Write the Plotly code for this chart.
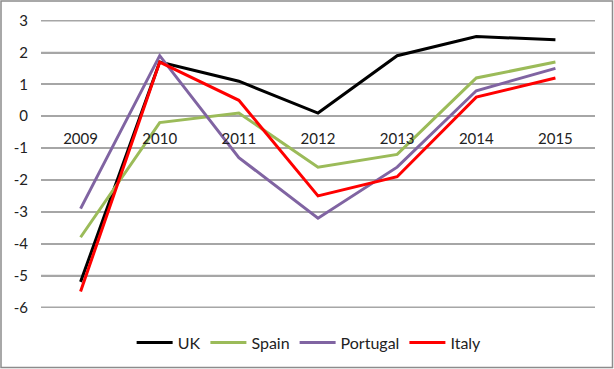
import plotly.graph_objects as go

years = ["2009", "2010", "2011", "2012", "2013", "2014", "2015"]
uk = [-5.2, 1.7, 1.1, 0.1, 1.9, 2.5, 2.4]
spain = [-3.8, -0.2, 0.1, -1.6, -1.2, 1.2, 1.7]
portugal = [-2.9, 1.9, -1.3, -3.2, -1.6, 0.8, 1.5]
italy = [-5.5, 1.7, 0.5, -2.5, -1.9, 0.6, 1.2]
y_ticks = [3, 2, 1, 0, -1, -2, -3, -4, -5, -6]
y_tick_labels = ["3", "2", "1", "0", "-1", "-2", "-3", "-4", "-5", "-6"]

series = [("UK", uk, "#000000"), ("Spain", spain, "#9BBB59"),
          ("Portugal", portugal, "#8064A2"), ("Italy", italy, "#FF0000")]

W, H = 614, 369
ml, mr, mt, mb = 41, 19, 20, 61
ymin, ymax = -6, 3
pad = 0.02
grid_col = "#A6A6A6"

fig = go.Figure()
for name, vals, col in series:
    fig.add_trace(go.Scatter(x=years, y=vals, name=name, mode="lines",
                             line=dict(color=col, width=3)))

font = dict(family="Lato, Open Sans, sans-serif", size=15, color="#222222")
pw, ph = W - ml - mr, H - mt - mb

shapes = [dict(type="line", xref="paper", yref="y", x0=0, x1=1, y0=v, y1=v,
               line=dict(color=grid_col, width=1.5), layer="below") for v in y_ticks]
shapes.append(dict(type="rect", xref="paper", yref="paper",
                   x0=-(ml - 1) / pw, x1=1 + (mr - 1.5) / pw,
                   y0=-(mb - 1.5) / ph, y1=1 + (mt - 1) / ph,
                   fillcolor="rgba(0,0,0,0)",
                   line=dict(color="#8C8C8C", width=1.5), layer="above"))

fig.update_layout(
    width=W, height=H,
    margin=dict(l=ml, r=mr, t=mt, b=mb, autoexpand=False),
    paper_bgcolor="white", plot_bgcolor="white",
    font=font,
    showlegend=True,
    legend=dict(orientation="h", x=0.484, xanchor="center", y=-0.12, yanchor="middle",
                font=dict(size=16, color="#222222"), itemwidth=36, tracegroupgap=0),
    xaxis=dict(type="category", range=[-0.5, 6.5], anchor="free",
               position=(0 - ymin + pad) / (ymax - ymin + 2 * pad),
               showgrid=False, showline=False, zeroline=False, ticks="",
               ticklabelstandoff=12, tickfont=font),
    yaxis=dict(range=[ymin - pad, ymax + pad], tickvals=y_ticks, ticktext=y_tick_labels,
               showgrid=True, gridcolor=grid_col,
               gridwidth=1.5, zeroline=False,
               showline=False, ticks="", ticklabelstandoff=12, tickfont=font),
    shapes=shapes,
)

fig.write_html("out.html", config={"displayModeBar": False},
               post_script="document.body.style.margin='0';document.body.style.overflow='hidden';")
